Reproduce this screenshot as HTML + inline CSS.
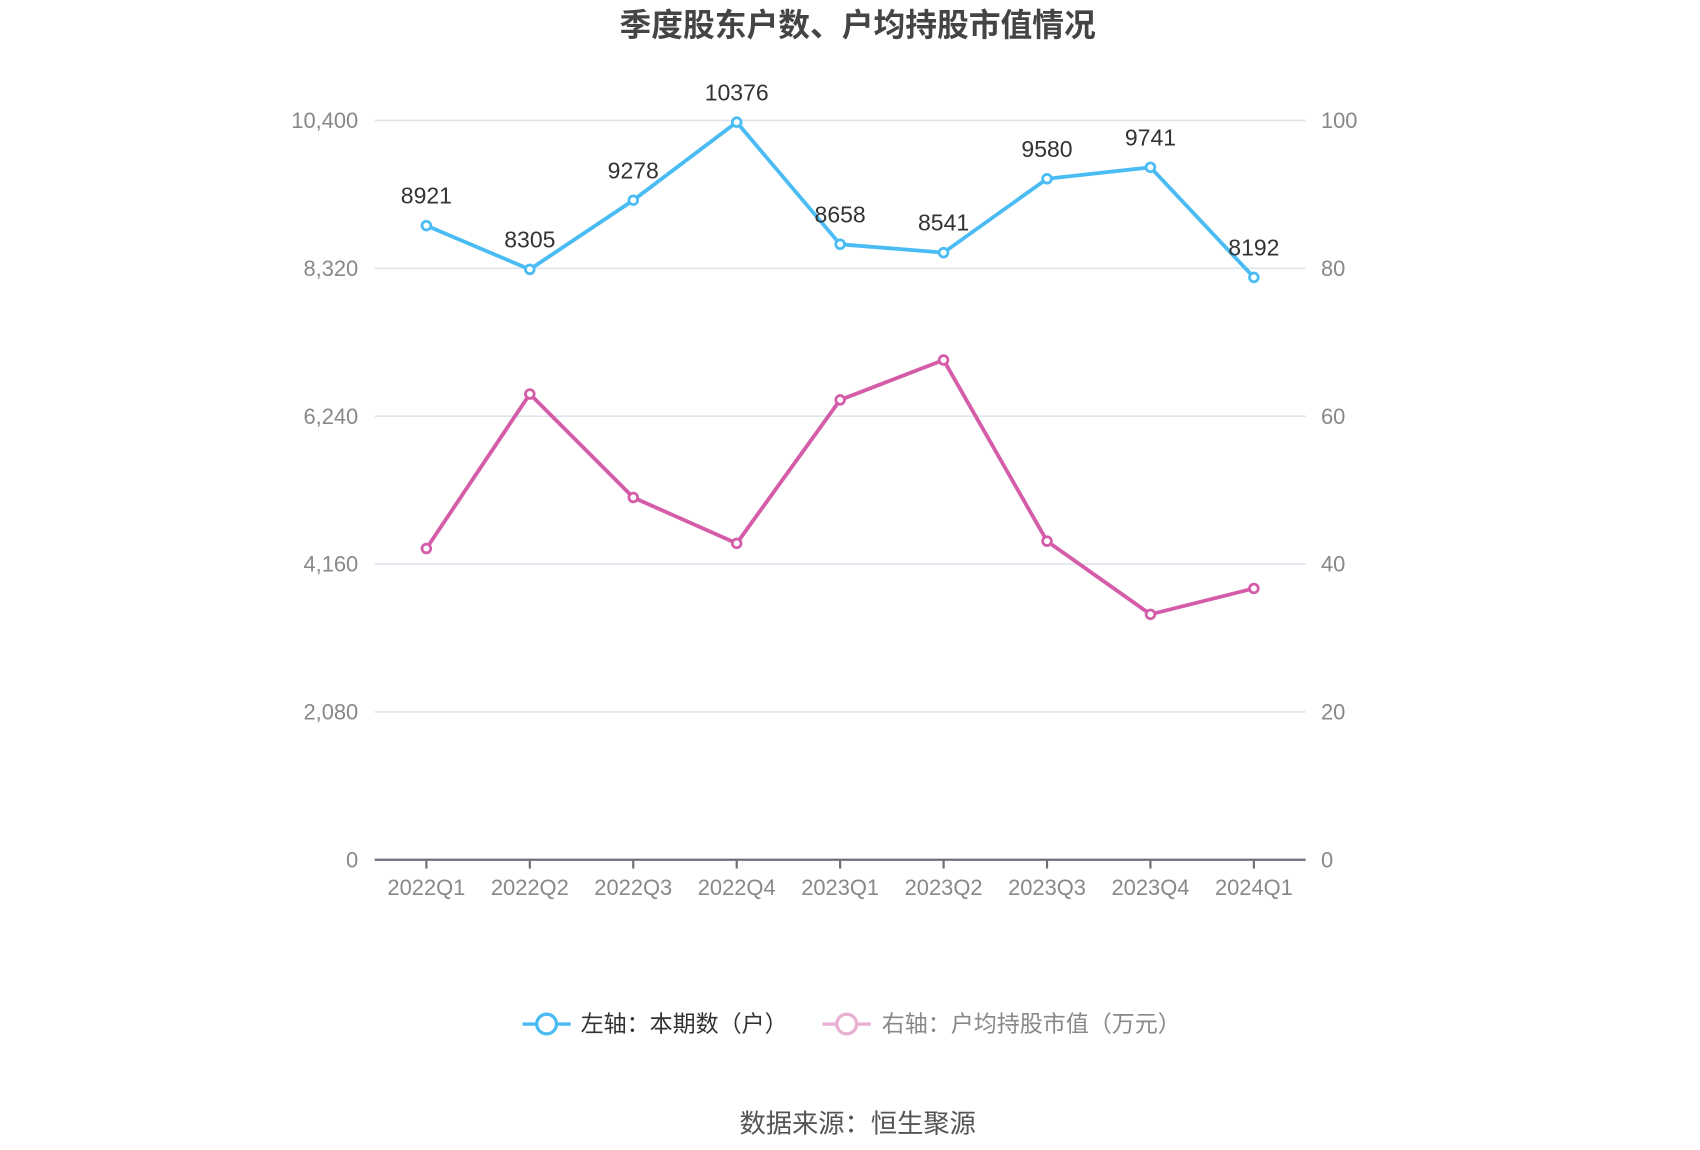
<!DOCTYPE html>
<html><head><meta charset="utf-8"><style>
html,body{margin:0;padding:0;background:#fff;}
svg{display:block;font-family:"Liberation Sans","Noto Sans CJK SC",sans-serif;}
</style></head><body>
<svg id="chart" width="1700" height="1150" viewBox="0 0 1552 1050" xmlns="http://www.w3.org/2000/svg">
<text x="783" y="33" text-anchor="middle" font-size="29" font-weight="bold" fill="#444">季度股东户数、户均持股市值情况</text>
<g id="grid"></g><g id="axes"></g><g id="series"></g>
<g>
<g>
<line x1="477" y1="935" x2="521" y2="935" stroke="#4bbcf3" stroke-width="3"/>
<circle cx="499" cy="935" r="9" fill="#fff" stroke="#4bbcf3" stroke-width="3"/>
<text x="530" y="942" font-size="21" fill="#333">左轴：本期数（户）</text></g>
<g>
<line x1="751" y1="935" x2="795" y2="935" stroke="#eab0d4" stroke-width="3"/>
<circle cx="773" cy="935" r="9" fill="#fff" stroke="#eab0d4" stroke-width="3"/>
<text x="805" y="942" font-size="21" fill="#888">右轴：户均持股市值（万元）</text></g>
</g>
<text x="783" y="1034" text-anchor="middle" font-size="24" fill="#555">数据来源：恒生聚源</text>
</svg>
<script>
const categories=["2022Q1","2022Q2","2022Q3","2022Q4","2023Q1","2023Q2","2023Q3","2023Q4","2024Q1"];
const holders=[8921,8305,9278,10376,8658,8541,9580,9741,8192];
const avgValue=[42.1,63.0,49.0,42.8,62.2,67.6,43.1,33.2,36.7];
const leftTicks=[0,2080,4160,6240,8320,10400];
const rightTicks=[0,20,40,60,80,100];
const NS="http://www.w3.org/2000/svg";
const L=342,R=1192,T=110,B=785;
const band=(R-L)/categories.length;
const xS=i=>L+band*(i+0.5);
const yL=v=>B-(v/10400)*(B-T);
const yR=v=>B-(v/100)*(B-T);
function mk(tag,attrs,parent,txt){const e=document.createElementNS(NS,tag);for(const k in attrs)e.setAttribute(k,attrs[k]);if(txt!==undefined)e.textContent=txt;parent.appendChild(e);return e;}
const grid=document.getElementById('grid'),axes=document.getElementById('axes'),ser=document.getElementById('series');
leftTicks.forEach((t,i)=>{const y=yL(t);
 if(t>0){const g=mk('line',{x1:L,x2:R,y1:y,y2:y,stroke:'#dfe3ec','stroke-width':1.5},grid);
 
 }
 const a=mk('text',{x:327,y:y+7,'text-anchor':'end','font-size':20,fill:'#888'},axes,t.toLocaleString('en-US'));
 
 
});
rightTicks.forEach(t=>{const y=yR(t);
 const a=mk('text',{x:1206,y:y+7,'font-size':20,fill:'#888'},axes,String(t));
 
 
});
const ax=mk('line',{x1:L,x2:R,y1:B,y2:B,stroke:'#6e7079','stroke-width':2},axes);


categories.forEach((c,i)=>{const x=xS(i);
 const tk=mk('line',{x1:x,x2:x,y1:B,y2:B+8,stroke:'#6e7079','stroke-width':2},axes);
 
 
 const t=mk('text',{x:x,y:B+32,'text-anchor':'middle','font-size':20,fill:'#888'},axes,c);
 
 
});
function drawSeries(vals,yf,color,name,labels){
 const p=mk('polyline',{points:vals.map((v,i)=>xS(i)+','+yf(v)).join(' '),fill:'none',stroke:color,'stroke-width':3.5,'stroke-linejoin':'round'},ser);
 
 
 vals.forEach((v,i)=>{
  const c=mk('circle',{cx:xS(i),cy:yf(v),r:4,fill:'#fff',stroke:color,'stroke-width':2.5},ser);
  
  
  if(labels){const t=mk('text',{x:xS(i),y:yf(v)-20,'text-anchor':'middle','font-size':21,fill:'#333'},ser,String(v));
   
   }
 });
}
drawSeries(avgValue,yR,'#d45ca8','avg-value',false);
drawSeries(holders,yL,'#4bbcf3','holders',true);
</script>
</body></html>
